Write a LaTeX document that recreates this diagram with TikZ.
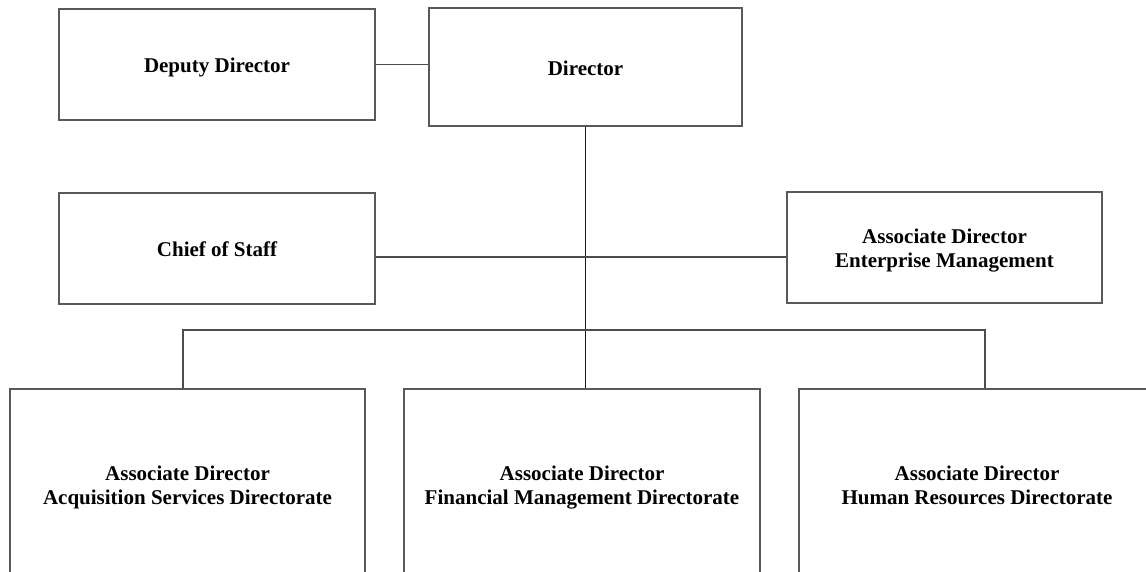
\documentclass[tikz,border=0pt]{standalone}
\usepackage{fontspec}
\setmainfont{Liberation Serif}
\newcommand\tstrut{\rule[-7.2pt]{0pt}{31pt}}
\begin{document}
\begin{tikzpicture}[x=1pt,y=-1pt,
  orgbox/.style={draw=black!65, line width=1.3pt, rectangle, inner sep=0pt, align=center,
    font=\fontsize{21}{24}\selectfont\bfseries},
  link/.style={draw=black!70, line width=1.3pt},
  trunk/.style={draw=black!90, line width=1.3pt}]
\useasboundingbox (0,0) rectangle (1146,572);
\clip (0,0) rectangle (1146,572);
\fill[white] (0,0) rectangle (1146,572);
\node[orgbox, minimum width=316pt, minimum height=111pt] (dep) at (217,64.5) {\tstrut Deputy Director};
\node[orgbox, minimum width=313pt, minimum height=118pt] (dir) at (585.5,67) {\tstrut Director};
\node[orgbox, minimum width=316pt, minimum height=111pt] (cos) at (217,248.5) {\tstrut Chief of Staff};
\node[orgbox, minimum width=315pt, minimum height=111pt] (em) at (944.5,247.5) {\tstrut Associate Director\\\strut Enterprise Management};
\node[orgbox, minimum width=355pt, minimum height=190pt] (acq) at (187.5,484) {\tstrut Associate Director\\\strut Acquisition Services Directorate};
\node[orgbox, minimum width=356pt, minimum height=190pt] (fin) at (582,484) {\tstrut Associate Director\\\strut Financial Management Directorate};
\node[orgbox, minimum width=356pt, minimum height=190pt] (hr) at (977,484) {\tstrut Associate Director\\\strut Human Resources Directorate};
\coordinate (mid) at (585.5,257);
\coordinate (busl) at (183,330);
\coordinate (busr) at (985,330);
\draw[link] (dep.east) -- (dir.west |- dep.east);
\draw[trunk] (dir.south) -- (dir.south |- fin.north);
\draw[link] (cos.east |- mid) -- (mid) -- (em.west |- mid);
\draw[link] (acq.north -| busl) -- (busl) -- (busr) -- (hr.north -| busr);
\end{tikzpicture}
\end{document}
